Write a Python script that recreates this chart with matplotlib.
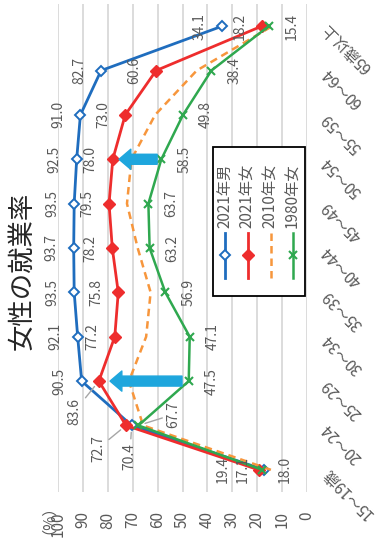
import matplotlib
matplotlib.use("Agg")
import matplotlib.pyplot as plt
from matplotlib.patches import Rectangle

plt.rcParams['font.family'] = ['Noto Sans CJK JP', 'DejaVu Sans']

# data (rotated chart: values run right->left, age groups bottom->top)
ages = ["15～19歳", "20～24", "25～29", "30～34", "35～39", "40～44",
        "45～49", "50～54", "55～59", "60～64", "65歳以上"]
male_2021 = [17.1, 70.4, 90.5, 92.1, 93.5, 93.7, 93.5, 92.5, 91.0, 82.7, 34.1]
female_2021 = [19.4, 72.7, 83.6, 77.2, 75.8, 78.2, 79.5, 78.0, 73.0, 60.6, 18.2]
female_2010 = [14.5, 65.8, 71.5, 64.6, 62.8, 68.0, 72.3, 70.5, 61.0, 44.3, 14.0]
female_1980 = [18.0, 67.7, 47.5, 47.1, 56.9, 63.2, 63.7, 58.5, 49.8, 38.4, 15.4]
names = ["2021年男", "2021年女", "2010年女", "1980年女"]

GRAY = "#595959"
BLUE = "#1F6DBE"
RED = "#EE2D2D"
ORANGE = "#F7963C"
GREEN = "#2FA84F"
CYAN = "#1EA6DD"

fig = plt.figure(figsize=(3.79, 5.44), dpi=100)
ax = fig.add_axes([58 / 379, 1 - 492 / 544, 249 / 379, 488 / 544])

pos = list(range(len(ages)))

ax.plot(male_2021, pos, color=BLUE, lw=2.0, marker="D", ms=5.5,
        mfc="white", mec=BLUE, mew=1.4, zorder=3)
ax.plot(female_2021, pos, color=RED, lw=2.0, marker="D", ms=6,
        mfc=RED, mec=RED, zorder=3)
ax.plot(female_2010, pos, color=ORANGE, lw=1.8, ls=(0, (3, 2)), zorder=3)
ax.plot(female_1980, pos, color=GREEN, lw=1.8, marker="x", ms=6,
        mew=1.5, zorder=4)

ax.set_xlim(100, 0)
ax.set_ylim(-0.5, 10.5)
ax.set_xticks(range(0, 101, 10))
ax.set_yticks(pos)
ax.set_yticklabels(ages)
ax.yaxis.tick_right()
ax.grid(axis="x", color="#D9D9D9", lw=1.3)
ax.set_axisbelow(True)
for s in ax.spines.values():
    s.set_visible(False)
ax.tick_params(axis="x", length=0, pad=14, labelsize=11, labelcolor=GRAY,
               labelrotation=90)
ax.tick_params(axis="y", length=0, pad=13, labelsize=11, labelcolor=GRAY)
for lab in ax.get_yticklabels():
    lab.set_rotation(135)
    lab.set_rotation_mode("anchor")
    lab.set_ha("right")
    lab.set_va("center")


def labels(vals, dx, special=None, leader=()):
    special = special or {}
    for i, v in enumerate(vals):
        off = special.get(i, (dx, 0))
        arrow = None
        if i in leader:
            arrow = dict(arrowstyle="-", color="#A6A6A6", lw=1,
                         shrinkA=1, shrinkB=5)
        ax.annotate(f"{v:.1f}", xy=(v, i), xytext=off,
                    textcoords="offset pixels", rotation=90,
                    ha="center", va="center", fontsize=10, color=GRAY,
                    arrowprops=arrow, zorder=6)


labels(male_2021, -22, {1: (-2, -31)}, leader=(1,))
labels(female_2021, -22, {0: (-36, 0), 1: (-28, -23), 2: (-24, -30)},
       leader=(1, 2))
labels(female_1980, 23, {1: (35, 11)}, leader=(1,))

# arrows showing the rise from 1980 to 2021
for i, gap_t, gap_h in [(2, 2.7, 4.5), (7, 1.7, 2.5)]:
    ax.annotate("", xy=(female_2021[i] - gap_h, i),
                xytext=(female_1980[i] + gap_t, i),
                arrowprops=dict(arrowstyle="simple,head_length=0.85,"
                                "head_width=1.45,tail_width=0.72",
                                color=CYAN, shrinkA=0, shrinkB=0,
                                mutation_scale=10), zorder=5)

# legend, drawn rotated by hand
ax.add_patch(Rectangle((0.622, 0.402), 0.370, 0.305, transform=ax.transAxes,
                       facecolor="white", edgecolor="black", lw=1.3,
                       zorder=7, clip_on=False))
styles = [dict(color=BLUE, lw=2.0, marker="D", ms=5.5, mfc="white", mec=BLUE, mew=1.4),
          dict(color=RED, lw=2.0, marker="D", ms=6, mfc=RED, mec=RED),
          dict(color=ORANGE, lw=1.8, ls=(0, (3, 2))),
          dict(color=GREEN, lw=1.8, marker="x", ms=6, mew=1.5)]
for k, (name, st) in enumerate(zip(names, styles)):
    xf = 0.671 + k * 0.0913
    ax.plot([xf, xf], [0.439, 0.531], transform=ax.transAxes, zorder=8,
            clip_on=False, markevery=[], **st)
    if "marker" in st:
        ax.plot([xf], [0.485], transform=ax.transAxes, zorder=9,
                clip_on=False, ls="none",
                **{a: b for a, b in st.items() if a not in ("lw", "ls")})
    ax.text(xf, 0.542, name, transform=ax.transAxes, rotation=90,
            ha="center", va="bottom", fontsize=11, color=GRAY, zorder=9)

fig.text(22 / 379, 1 - 271 / 544, "女性の就業率", rotation=90, ha="center",
         va="center", fontsize=19, color="#262626")
fig.text(40 / 379, 1 - 512 / 544, "（%）", rotation=90, ha="center",
         va="center", fontsize=11, color=GRAY)

fig.savefig("out.png", dpi=100)
